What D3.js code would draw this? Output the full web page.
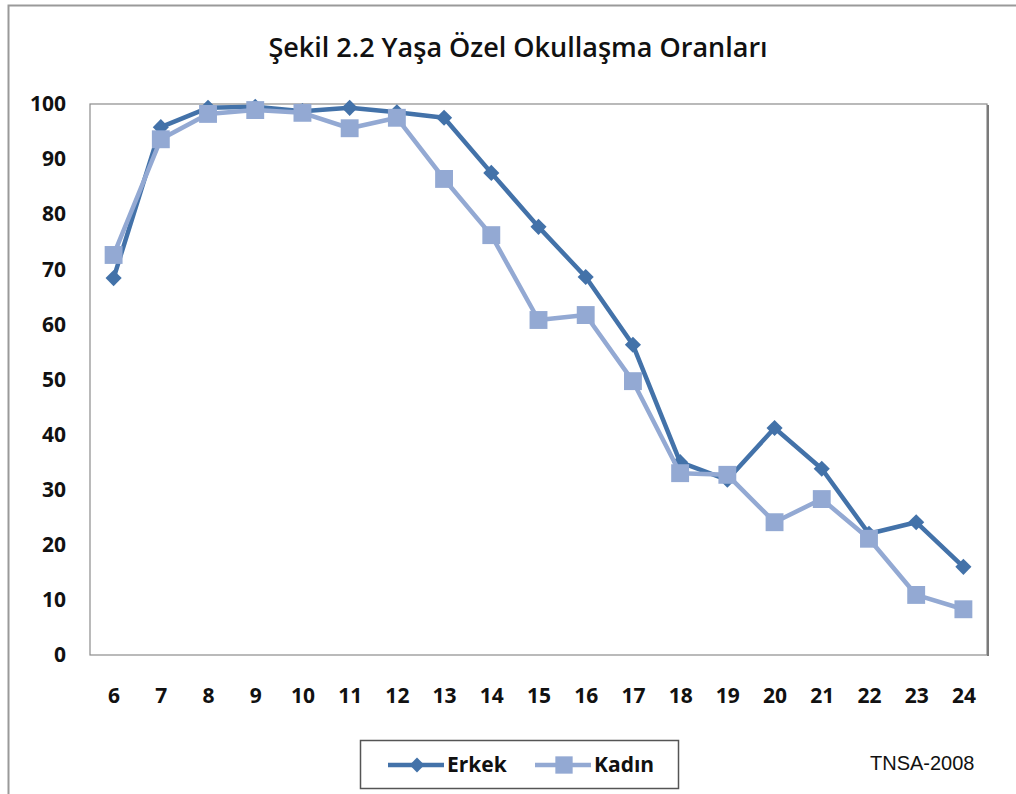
<!DOCTYPE html>
<html>
<head>
<meta charset="utf-8">
<script src="https://cdn.jsdelivr.net/npm/d3@7"></script>
<style>
  body { margin: 0; background: #fff; }
</style>
</head>
<body>
<svg id="main"></svg>
<script>
const ages = ['6', '7', '8', '9', '10', '11', '12', '13', '14', '15', '16', '17', '18', '19', '20', '21', '22', '23', '24'];
const erkek = [68.4, 95.8, 99.3, 99.5, 98.7, 99.3, 98.5, 97.5, 87.5, 77.7, 68.6, 56.3, 35.0, 31.8, 41.2, 33.8, 22.0, 24.1, 16.0];
const kadin = [72.6, 93.6, 98.2, 98.9, 98.4, 95.6, 97.5, 86.4, 76.2, 60.8, 61.7, 49.7, 33.0, 32.7, 24.1, 28.3, 21.1, 10.9, 8.3];
const yTicks = [0, 10, 20, 30, 40, 50, 60, 70, 80, 90, 100];
const seriesNames = ['Erkek', 'Kadın'];

const width = 1016, height = 794;
const erkekColor = '#4372a9', kadinColor = '#93a9d3';
const labelFont = "'Open Sans', sans-serif";

const svg = d3.select('#main')
  .attr('width', width)
  .attr('height', height);

// outer frame
svg.append('rect')
  .attr('x', 8.5).attr('y', 5.5)
  .attr('width', 1020).attr('height', 820)
  .attr('fill', 'white')
  .attr('stroke', '#9a9a9a')
  .attr('stroke-width', 2);

const x = d3.scalePoint()
  .domain(ages)
  .range([90, 987])
  .padding(0.5);

const y = d3.scaleLinear()
  .domain([0, 100])
  .range([655, 104]);

// plot area
svg.append('rect')
  .attr('x', 90).attr('y', 104)
  .attr('width', 897).attr('height', 551)
  .attr('fill', 'white')
  .attr('stroke', '#8c8c8c')
  .attr('stroke-width', 1.2);
svg.append('line')
  .attr('x1', 988).attr('x2', 988)
  .attr('y1', 105).attr('y2', 656)
  .attr('stroke', '#7a7a7a')
  .attr('stroke-width', 2);

svg.append('text')
  .text('Şekil 2.2 Yaşa Özel Okullaşma Oranları')
  .attr('x', 518).attr('y', 57)
  .attr('text-anchor', 'middle')
  .attr('font-family', labelFont)
  .attr('font-weight', 600)
  .attr('font-size', '27px')
  .attr('fill', '#111');

// y axis labels
const yAxis = svg.append('g')
  .attr('transform', 'translate(66,0)')
  .call(d3.axisLeft(y).tickValues(yTicks).tickSize(0).tickPadding(0));
yAxis.select('.domain').remove();
yAxis.selectAll('text')
  .attr('font-family', labelFont)
  .attr('font-weight', 'bold')
  .attr('font-size', '21px')
  .attr('fill', '#111');

// x axis labels
const xAxis = svg.append('g')
  .attr('transform', 'translate(0,688)')
  .call(d3.axisBottom(x).tickSize(0).tickPadding(0));
xAxis.select('.domain').remove();
xAxis.selectAll('text')
  .attr('font-family', labelFont)
  .attr('font-weight', 'bold')
  .attr('font-size', '21px')
  .attr('fill', '#111');

const line = d3.line()
  .x((d, i) => x(ages[i]))
  .y(d => y(d));

const diamond = d3.symbol().type(d3.symbolSquare).size(130);
const square = d3.symbol().type(d3.symbolSquare).size(320);

svg.append('path')
  .datum(erkek)
  .attr('d', line)
  .attr('fill', 'none')
  .attr('stroke', erkekColor)
  .attr('stroke-width', 4.5)
  .attr('stroke-linejoin', 'round');

svg.selectAll('.erkek')
  .data(erkek)
  .enter()
  .append('path')
  .attr('class', 'erkek')
  .attr('d', diamond)
  .attr('transform', (d, i) => `translate(${x(ages[i])},${y(d)}) rotate(45)`)
  .attr('fill', erkekColor);

svg.append('path')
  .datum(kadin)
  .attr('d', line)
  .attr('fill', 'none')
  .attr('stroke', kadinColor)
  .attr('stroke-width', 4.5)
  .attr('stroke-linejoin', 'round');

svg.selectAll('.kadin')
  .data(kadin)
  .enter()
  .append('path')
  .attr('class', 'kadin')
  .attr('d', square)
  .attr('transform', (d, i) => `translate(${x(ages[i])},${y(d)})`)
  .attr('fill', kadinColor);

// legend
svg.append('rect')
  .attr('x', 360.5).attr('y', 740.5)
  .attr('width', 318).attr('height', 48)
  .attr('fill', 'white')
  .attr('stroke', '#555')
  .attr('stroke-width', 1.5);

const legendX = [388, 535];
const legendColors = [erkekColor, kadinColor];

seriesNames.forEach((name, i) => {
  const lx = legendX[i];
  svg.append('line')
    .attr('x1', lx).attr('x2', lx + 56)
    .attr('y1', 765).attr('y2', 765)
    .attr('stroke', legendColors[i])
    .attr('stroke-width', 4.5);
  svg.append('path')
    .attr('d', i == 0 ? d3.symbol().type(d3.symbolSquare).size(110)() : d3.symbol().type(d3.symbolSquare).size(300)())
    .attr('transform', `translate(${lx + 29},765)` + (i == 0 ? ' rotate(45)' : ''))
    .attr('fill', legendColors[i]);
  svg.append('text')
    .text(name)
    .attr('x', lx + 59).attr('y', 772)
    .attr('font-family', labelFont)
    .attr('font-weight', 'bold')
    .attr('font-size', '21px')
    .attr('fill', '#111');
});

svg.append('text')
  .text('TNSA-2008')
  .attr('x', 870).attr('y', 770)
  .attr('font-family', "'Liberation Sans', Arial, sans-serif")
  .attr('font-size', '20px')
  .attr('fill', '#111');
</script>
</body>
</html>
